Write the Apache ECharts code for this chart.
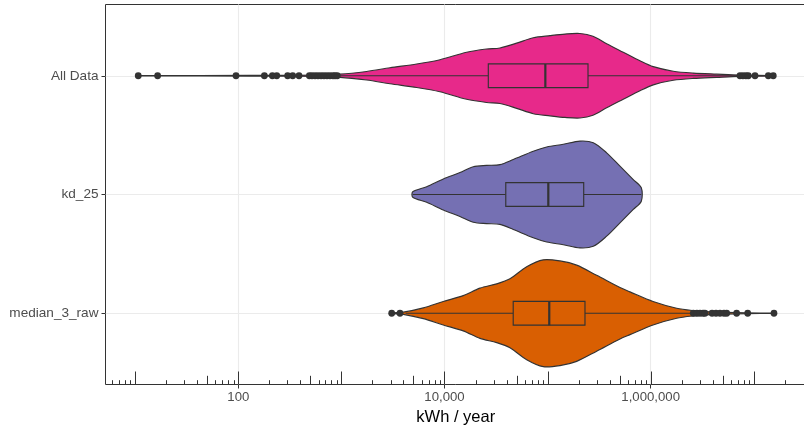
<!DOCTYPE html>
<html><head><meta charset="utf-8">
<script src="https://cdn.jsdelivr.net/npm/echarts@6/dist/echarts.min.js"></script>
<style>html,body{margin:0;padding:0;background:#fff}#chart{width:804px;height:426px}</style>
</head><body><div id="chart"></div>
<script>
// ---- data ----
const categories = ['All Data', 'kd_25', 'median_3_raw'];
const violinColors = ['#E7298A', '#7570B3', '#D95F02'];

// violin outlines: value (kWh/year) and relative half-width (1 = widest violin)
const allDataDensityX = [10.7, 42.5, 396, 968, 1760, 2960, 5370, 9040, 16400, 25600, 34500, 50100, 72600, 105500, 147500, 206000, 275400, 374000, 542000, 787000, 1059000, 1656000, 2590000, 4365000, 7345000, 15450000];
const allDataDensityW = [0.004, 0.005, 0.01, 0.03, 0.08, 0.15, 0.22, 0.30, 0.44, 0.50, 0.52, 0.61, 0.71, 0.75, 0.78, 0.79, 0.74, 0.60, 0.44, 0.28, 0.17, 0.085, 0.05, 0.03, 0.012, 0.003];

const kd25DensityX = [4920, 6720, 9730, 14130, 19010, 25650, 34500, 46500, 72600, 98000, 142000, 206000, 277500, 374000, 503600, 678000, 811000];
const kd25DensityW = [0.05, 0.145, 0.29, 0.41, 0.52, 0.545, 0.56, 0.655, 0.81, 0.89, 0.94, 1.0, 0.97, 0.78, 0.53, 0.28, 0.125];

const median3DensityX = [3076, 3981, 6230, 9730, 15200, 22100, 32100, 43150, 62700, 90800, 131800, 191400, 299300, 503600, 629500, 1054000, 1787000, 2590000, 3758000, 8530000, 15700000];
const median3DensityW = [0.005, 0.02, 0.1, 0.22, 0.33, 0.47, 0.55, 0.645, 0.87, 1.0, 0.98, 0.9, 0.71, 0.48, 0.40, 0.22, 0.094, 0.05, 0.025, 0.006, 0.003];

// box stats: [lower whisker, Q1, median, Q3, upper whisker]
const allDataBox = [960, 26600, 95100, 246600, 6870000];
const kd25Box = [4920, 39300, 101600, 224000, 811000];
const median3Box = [4200, 46400, 103800, 230500, 2520000];

// outliers
const allDataOutliers = [10.7, 16.5, 95, 179, 214, 236, 301, 337, 388, 489, 519, 555, 593, 635, 678, 725, 775, 829, 868, 912, 7345000, 7850000, 8390000, 8850000, 10280000, 13840000, 15450000];
const kd25Outliers = [];
const median3Outliers = [3076, 3700, 2590000, 2810000, 3010000, 3220000, 3360000, 3940000, 4300000, 4700000, 5140000, 5460000, 6820000, 8730000, 15700000];

// axis ticks
const xTickValues = [100, 10000, 1000000];
const logTickMultipliers = [1, 2, 3, 4, 5, 6, 7, 8, 9];
const logTickDecades = [1, 10, 100, 1000, 10000, 100000, 1000000, 10000000];

// ---- chart ----
const FONT = "'Liberation Sans', Arial, Helvetica, sans-serif";
const X_MIN = 5.15, X_MAX = 3.21e7, LOGTICK_MAX = 2.1e7;
const Y_MIN = 0.4, Y_MAX = 3.6;
const MAXW = 0.45, BOXH = 0.1;
const INK = '#333333';
const LW = 1.15;

function fmtNum(v) {
  return String(Math.round(v)).replace(/\B(?=(\d{3})+(?!\d))/g, ',');
}

function violinSeries(idx, xs, ws) {
  return {
    type: 'custom', coordinateSystem: 'cartesian2d', clip: true, silent: true, z: 2,
    data: [[xs[0], idx + 1]], encode: { x: 0, y: 1 },
    renderItem: function (params, api) {
      const y = idx + 1;
      const upper = xs.map((v, k) => api.coord([v, y - ws[k] * MAXW]));
      const lower = xs.map((v, k) => api.coord([v, y + ws[k] * MAXW])).reverse();
      return {
        type: 'polygon',
        shape: { points: upper.concat(lower), smooth: 0.3 },
        style: { fill: violinColors[idx], stroke: INK, lineWidth: LW }
      };
    }
  };
}

function boxSeries(idx, s) {
  return {
    type: 'custom', coordinateSystem: 'cartesian2d', clip: true, silent: true, z: 3,
    data: [[s[2], idx + 1]], encode: { x: 0, y: 1 },
    renderItem: function (params, api) {
      const y = idx + 1;
      const wl = api.coord([s[0], y]), q1 = api.coord([s[1], y]);
      const q3 = api.coord([s[3], y]), wh = api.coord([s[4], y]);
      const tl = api.coord([s[1], y - BOXH]), br = api.coord([s[3], y + BOXH]);
      const mt = api.coord([s[2], y - BOXH]), mb = api.coord([s[2], y + BOXH]);
      const ln = { stroke: INK, lineWidth: LW };
      return {
        type: 'group',
        children: [
          { type: 'line', shape: { x1: wl[0], y1: wl[1], x2: q1[0], y2: q1[1] }, style: ln },
          { type: 'line', shape: { x1: q3[0], y1: q3[1], x2: wh[0], y2: wh[1] }, style: ln },
          { type: 'rect', shape: { x: tl[0], y: tl[1], width: br[0] - tl[0], height: br[1] - tl[1] },
            style: { fill: violinColors[idx], stroke: INK, lineWidth: LW } },
          { type: 'line', shape: { x1: mt[0], y1: mt[1], x2: mb[0], y2: mb[1] }, style: { stroke: INK, lineWidth: 2.2 } }
        ]
      };
    }
  };
}

const outlierData = []
  .concat(allDataOutliers.map(v => [v, 1]))
  .concat(kd25Outliers.map(v => [v, 2]))
  .concat(median3Outliers.map(v => [v, 3]));

const logTickData = [];
logTickDecades.forEach(d => logTickMultipliers.forEach(m => {
  const v = d * m;
  if (v > X_MIN && v <= LOGTICK_MAX) logTickData.push([v, Y_MAX, m]);
}));

const chart = echarts.init(document.getElementById('chart'), null, { renderer: 'canvas' });
chart.setOption({
  animation: false,
  backgroundColor: '#ffffff',
  grid: {
    left: 105.5, top: 4.5, right: -2, bottom: 41.5,
    show: true, borderColor: INK, borderWidth: 1, backgroundColor: 'transparent',
    containLabel: false, outerBoundsMode: 'none'
  },
  xAxis: {
    type: 'log', logBase: 10, min: X_MIN, max: X_MAX,
    axisLine: { show: false },
    axisTick: { show: true, length: 4, customValues: xTickValues, lineStyle: { color: INK, width: 1 } },
    minorTick: { show: false },
    axisLabel: { customValues: xTickValues, formatter: fmtNum, color: '#4D4D4D', fontSize: 13.2, fontFamily: FONT, margin: 6 },
    splitLine: { show: true, lineStyle: { color: '#EBEBEB', width: 1.1 } },
    minorSplitLine: { show: false },
    name: 'kWh / year', nameLocation: 'middle', nameGap: 24.5,
    nameTextStyle: { fontSize: 16.5, color: '#000000', fontFamily: FONT }
  },
  yAxis: {
    type: 'value', min: Y_MIN, max: Y_MAX, inverse: true,
    axisLine: { show: false },
    axisTick: { show: true, length: 4, customValues: [1, 2, 3], lineStyle: { color: INK, width: 1 } },
    axisLabel: { customValues: [1, 2, 3], formatter: v => categories[Math.round(v) - 1], color: '#4D4D4D', fontSize: 13.6, fontFamily: FONT, margin: 7 },
    splitLine: { show: true, lineStyle: { color: '#EBEBEB', width: 1.1 } }
  },
  series: [
    violinSeries(0, allDataDensityX, allDataDensityW),
    violinSeries(1, kd25DensityX, kd25DensityW),
    violinSeries(2, median3DensityX, median3DensityW),
    boxSeries(0, allDataBox),
    boxSeries(1, kd25Box),
    boxSeries(2, median3Box),
    {
      type: 'scatter', data: outlierData, symbol: 'circle', symbolSize: 6.8, z: 4, silent: true,
      itemStyle: { color: INK, opacity: 1, borderWidth: 0 }
    },
    {
      type: 'custom', coordinateSystem: 'cartesian2d', clip: true, silent: true, z: 5,
      data: logTickData, encode: { x: 0, y: 1 },
      renderItem: function (params, api) {
        const p = api.coord([api.value(0), api.value(1)]);
        const m = api.value(2);
        const len = m === 1 ? 13 : (m === 5 ? 8.7 : 4.3);
        const x = Math.round(p[0]) + 0.5;
        return { type: 'line', shape: { x1: x, y1: p[1], x2: x, y2: p[1] - len }, style: { stroke: INK, lineWidth: 1 } };
      }
    }
  ]
});
</script></body></html>
